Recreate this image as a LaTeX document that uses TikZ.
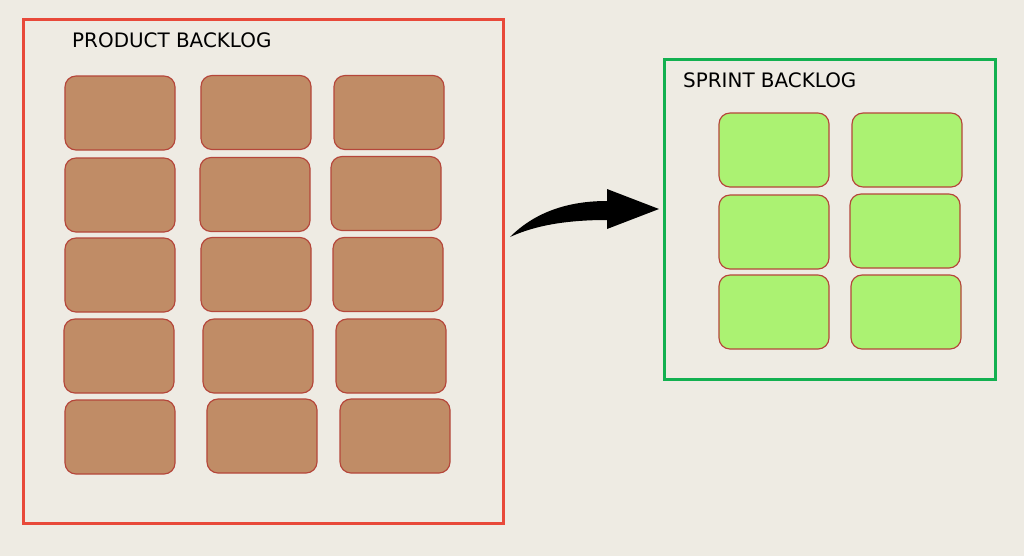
\documentclass[tikz,border=0pt]{standalone}
\usepackage{fontspec}
\setmainfont{DejaVu Sans}
\usepackage{xcolor}
\usetikzlibrary{shapes, arrows.meta, positioning}

\definecolor{bgPaper}{HTML}{EEEBE3}
\definecolor{frameRed}{HTML}{E8493A}
\definecolor{frameGreen}{HTML}{12B050}
\definecolor{cardBrown}{HTML}{C08C66}
\definecolor{cardGreen}{HTML}{ABF272}
\definecolor{cardEdge}{HTML}{B5463A}

\begin{document}
\begin{tikzpicture}[x=0.03cm, y=-0.03cm,
    every node/.style={font=\fontsize{17}{20}\selectfont},
    card/.style={rectangle, draw=cardEdge, line width=1pt, rounded corners=0.33cm, minimum width=3.3cm, minimum height=2.22cm, inner sep=0pt},
    brownCard/.style={card, fill=cardBrown},
    greenCard/.style={card, fill=cardGreen}]
    \fill [bgPaper] (0,0) rectangle (1024,556);
    \useasboundingbox (0,0) rectangle (1024,556);

    \node (prodFrame) [rectangle, draw=frameRed, line width=2.4pt, minimum width=14.4cm, minimum height=15.12cm, inner sep=0pt, anchor=north west] at (22,18) {};
    \node (sprintFrame) [rectangle, draw=frameGreen, line width=2.4pt, minimum width=9.93cm, minimum height=9.6cm, inner sep=0pt, anchor=north west] at (663,58) {};
    \node (prodTitle) [anchor=base west, inner sep=0pt] at (72,47) {PRODUCT BACKLOG};
    \node (sprintTitle) [anchor=base west, inner sep=0pt] at (683,87) {SPRINT BACKLOG};

    % product backlog items
    \node (pb11) [brownCard] at (120,113) {};
    \node (pb12) [brownCard] at (256,112.5) {};
    \node (pb13) [brownCard] at (389,112.5) {};
    \node (pb21) [brownCard] at (120,195) {};
    \node (pb22) [brownCard] at (255,194.5) {};
    \node (pb23) [brownCard] at (386,193.5) {};
    \node (pb31) [brownCard] at (120,275) {};
    \node (pb32) [brownCard] at (256,274.5) {};
    \node (pb33) [brownCard] at (388,274.5) {};
    \node (pb41) [brownCard] at (119,356) {};
    \node (pb42) [brownCard] at (258,356) {};
    \node (pb43) [brownCard] at (391,356) {};
    \node (pb51) [brownCard] at (120,437) {};
    \node (pb52) [brownCard] at (262,436) {};
    \node (pb53) [brownCard] at (395,436) {};

    % sprint backlog items
    \node (sb11) [greenCard] at (774,150) {};
    \node (sb12) [greenCard] at (907,150) {};
    \node (sb21) [greenCard] at (774,232) {};
    \node (sb22) [greenCard] at (905,231) {};
    \node (sb31) [greenCard] at (774,312) {};
    \node (sb32) [greenCard] at (906,312) {};

    % curved arrow
    \coordinate (arrowTail) at (510,237);
    \coordinate (arrowTip) at (659,209);
    \fill [black] (arrowTail) .. controls (535,212) and (568,201) .. (607,201)
        -- (607,189) -- (arrowTip) -- (607,229) -- (607,220)
        .. controls (568,220) and (536,225) .. (arrowTail) -- cycle;
\end{tikzpicture}
\end{document}
